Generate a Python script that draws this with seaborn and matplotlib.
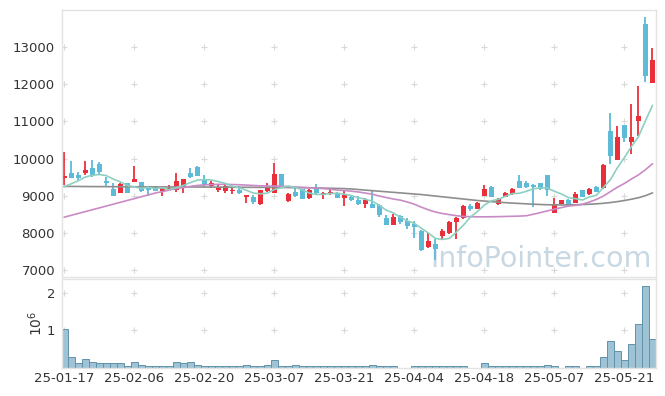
import numpy as np
import pandas as pd
import matplotlib
matplotlib.use("Agg")
import matplotlib.pyplot as plt
import seaborn as sns

# daily candles
opens = [9480, 9620, 9555, 9605, 9755, 9845, 9400, 9190, 9075, 9330,
         9380, 9360, 9200, 9240, 9135, 9190, 9155, 9225, 9620, 9780,
         9450, 9265, 9155, 9135, 9125, 9155, 8975, 8975, 8770, 9135,
         9080, 9585, 8860, 9110, 9175, 8925, 9215, 9020, 9060, 9080,
         8950, 8975, 8885, 8780, 8780, 8750, 8410, 8215, 8460, 8330,
         8230, 8050, 7630, 7700, 7915, 7990, 8300, 8390, 8730, 8650,
         8990, 9245, 8775, 8975, 9040, 9400, 9330, 9300, 9330, 9555,
         8545, 8780, 8885, 8815, 9150, 9045, 9240, 9200, 10750, 9960,
         10900, 10440, 11020, 13620, 12040]
closes = [9540, 9485, 9470, 9690, 9560, 9645, 9350, 9000, 9315, 9080,
          9450, 9125, 9155, 9130, 9200, 9205, 9395, 9440, 9510, 9540,
          9280, 9350, 9225, 9260, 9155, 9080, 9020, 8840, 9155, 9240,
          9585, 9260, 9045, 8990, 8910, 9150, 9065, 9075, 9090, 8950,
          9020, 8885, 8780, 8885, 8680, 8480, 8215, 8420, 8300, 8185,
          8165, 7540, 7790, 7565, 8050, 8300, 8390, 8720, 8640, 8810,
          9175, 8975, 8900, 9060, 9170, 9215, 9245, 9245, 9175, 9155,
          8770, 8885, 8750, 9040, 8975, 9180, 9110, 9825, 10075, 10590,
          10545, 10590, 11145, 12230, 12650]
highs = [10180, 9935, 9645, 9935, 9960, 9915, 9495, 9330, 9335, 9340,
         9800, 9380, 9230, 9250, 9210, 9290, 9600, 9445, 9735, 9790,
         9555, 9400, 9305, 9330, 9250, 9260, 9030, 9020, 9160, 9330,
         9870, 9590, 9080, 9260, 9190, 9170, 9315, 9110, 9200, 9100,
         9150, 8990, 9000, 8930, 9150, 8770, 8480, 8500, 8480, 8390,
         8320, 8080, 7990, 7825, 8110, 8310, 8435, 8740, 8775, 8830,
         9290, 9260, 8930, 9090, 9200, 9560, 9400, 9320, 9340, 9570,
         8930, 8890, 8900, 9090, 9160, 9210, 9250, 9850, 11220, 10875,
         10910, 11465, 11950, 13815, 12990]
lows = [9300, 9470, 9420, 9560, 9510, 9560, 9240, 8990, 9060, 9070,
        9370, 9110, 9000, 9120, 9000, 9150, 9110, 9065, 9470, 9530,
        9240, 9200, 9100, 9080, 9050, 9050, 8790, 8780, 8760, 9100,
        9060, 9250, 8830, 8975, 8900, 8910, 9020, 8910, 9020, 8930,
        8730, 8870, 8750, 8680, 8670, 8435, 8210, 8210, 8250, 8105,
        7855, 7510, 7585, 7270, 7830, 7980, 7830, 8380, 8590, 8640,
        8980, 8960, 8750, 8960, 9020, 9200, 9220, 8705, 9160, 8990,
        8540, 8770, 8730, 8800, 8960, 9030, 9100, 9170, 9850, 9960,
        10450, 10120, 10610, 12050, 12040]

# volume in millions
volume = [1.04, 0.29, 0.11, 0.24, 0.16, 0.13, 0.11, 0.11, 0.11, 0.05,
          0.16, 0.08, 0.05, 0.03, 0.05, 0.03, 0.16, 0.11, 0.16, 0.08,
          0.05, 0.03, 0.05, 0.03, 0.03, 0.03, 0.08, 0.03, 0.05, 0.08,
          0.21, 0.05, 0.05, 0.08, 0.03, 0.03, 0.05, 0.03, 0.03, 0.03,
          0.05, 0.03, 0.05, 0.03, 0.08, 0.03, 0.03, 0.03, 0.0, 0.0,
          0.05, 0.05, 0.05, 0.03, 0.03, 0.03, 0.03, 0.03, 0.0, 0.0,
          0.11, 0.03, 0.03, 0.03, 0.03, 0.05, 0.03, 0.03, 0.03, 0.08,
          0.05, 0.0, 0.03, 0.03, 0.0, 0.03, 0.03, 0.27, 0.71, 0.44,
          0.20, 0.62, 1.16, 2.18, 0.76]

# moving averages (the 5-day one starts from earlier history)
ma5_head = [9240, 9320, 9400, 9500]
ma20 = [8420, 8470, 8520, 8570, 8620, 8670, 8720, 8770, 8820, 8870,
        8920, 8970, 9020, 9070, 9110, 9150, 9190, 9220, 9250, 9275,
        9290, 9300, 9305, 9305, 9300, 9295, 9285, 9275, 9265, 9260,
        9260, 9255, 9245, 9235, 9225, 9215, 9205, 9190, 9175, 9150,
        9140, 9120, 9100, 9070, 9040, 8990, 8950, 8910, 8880, 8830,
        8770, 8690, 8620, 8560, 8520, 8490, 8460, 8440, 8435, 8430,
        8430, 8432, 8435, 8440, 8445, 8450, 8460, 8500, 8545, 8590,
        8635, 8680, 8720, 8740, 8770, 8830, 8900, 8990, 9110, 9230,
        9330, 9450, 9560, 9700, 9860]
ma60 = [9250, 9250, 9248, 9246, 9245, 9244, 9243, 9242, 9241, 9240,
        9240, 9239, 9238, 9237, 9236, 9235, 9235, 9234, 9234, 9233,
        9232, 9231, 9230, 9229, 9228, 9227, 9226, 9225, 9224, 9223,
        9222, 9220, 9218, 9216, 9214, 9212, 9208, 9204, 9200, 9195,
        9190, 9180, 9165, 9150, 9135, 9120, 9105, 9090, 9075, 9060,
        9045, 9030, 9010, 8990, 8970, 8950, 8930, 8910, 8890, 8870,
        8855, 8840, 8825, 8812, 8800, 8790, 8780, 8770, 8762, 8756,
        8752, 8750, 8752, 8756, 8762, 8770, 8780, 8795, 8815, 8840,
        8870, 8905, 8945, 9000, 9075]

tick_labels = ["25-01-17", "25-02-06", "25-02-20", "25-03-07", "25-03-21",
               "25-04-04", "25-04-18", "25-05-07", "25-05-21"]

df = pd.DataFrame({"open": opens, "high": highs, "low": lows,
                   "close": closes, "volume": volume,
                   "ma20": ma20, "ma60": ma60})
df["idx"] = np.arange(len(df))
ma5 = df["close"].rolling(5).mean()
ma5.iloc[:4] = ma5_head
df["ma5"] = ma5

sns.set_theme(style="white")
plt.rcParams["font.family"] = ["DejaVu Sans"]

RED = "#ea2f3a"
BLUE = "#5dbbd7"
GRID = "#d9d9d9"
SPINE = "#e3e3e3"

fig = plt.figure(figsize=(6.65, 3.96), dpi=100)
W, H = 665, 396
ax = fig.add_axes([62 / W, 1 - 277 / H, 594 / W, 267 / H])
axv = fig.add_axes([62 / W, 1 - 367.5 / H, 594 / W, 88.5 / H], sharex=ax)

# watermark
ax.text(0.993, 0.015, "InfoPointer.com", transform=ax.transAxes,
        ha="right", va="bottom", fontsize=20.5, color="#c8d8e3", zorder=0)

# candles
up = df["close"] >= df["open"]
colors = np.where(up, RED, BLUE)
body_lo = np.minimum(df["open"], df["close"])
body_h = np.maximum(np.abs(df["close"] - df["open"]), 15)
ax.vlines(df["idx"], df["low"], df["high"], colors=colors, linewidth=1.3, zorder=2)
ax.bar(df["idx"], body_h, bottom=body_lo, width=0.72, color=colors,
       linewidth=0, zorder=2)

# moving averages
sns.lineplot(data=df, x="idx", y="ma60", ax=ax, color="#8e8e8e", linewidth=1.2, zorder=3)
sns.lineplot(data=df, x="idx", y="ma20", ax=ax, color="#c98bc6", linewidth=1.2, zorder=3)
sns.lineplot(data=df, x="idx", y="ma5", ax=ax, color="#8dd0c2", linewidth=1.2, zorder=3)

# volume
axv.bar(df["idx"], df["volume"], width=1.0, color="#9fc3d4",
        edgecolor="#5f93ac", linewidth=0.7, zorder=2)

xticks = np.arange(0, len(df), 10)
yticks = np.arange(7000, 13001, 1000)
vticks = [1, 2]

ax.set_xlim(-0.3, 84.5)
ax.set_ylim(6810, 14000)
axv.set_ylim(0, 2.37)

ax.set_yticks(yticks)
ax.set_yticklabels([str(v) for v in yticks])
axv.set_yticks(vticks)
axv.set_yticklabels(["1", "2"])
axv.set_xticks(xticks)
axv.set_xticklabels(tick_labels)
ax.tick_params(axis="x", labelbottom=False)

# grid as small plus marks
gx, gy = np.meshgrid(xticks, yticks)
ax.scatter(gx.ravel(), gy.ravel(), marker="+", s=22, color=GRID, linewidths=0.8, zorder=1)
gx, gy = np.meshgrid(xticks, vticks)
axv.scatter(gx.ravel(), gy.ravel(), marker="+", s=22, color=GRID, linewidths=0.8, zorder=1)

for a in (ax, axv):
    a.set_xlabel("")
    a.set_ylabel("")
    a.tick_params(length=0, labelsize=9.5, colors="#333333", pad=5)
    for s in a.spines.values():
        s.set_color(SPINE)
        s.set_linewidth(1.0)
axv.tick_params(axis="x", pad=3)
axv.set_ylabel(r"$10^6$", fontsize=10, color="#333333", labelpad=1)

fig.savefig("out.png", dpi=100)
